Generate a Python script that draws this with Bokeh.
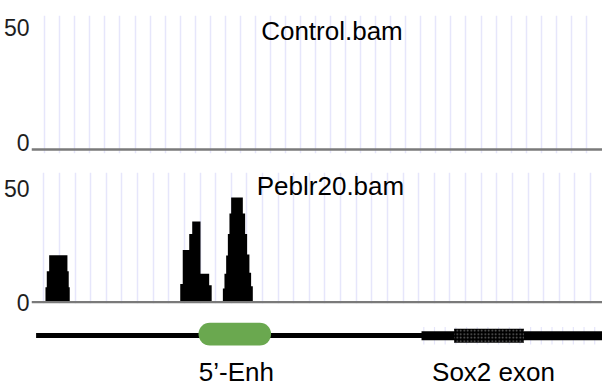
from bokeh.plotting import figure
from bokeh.models import Range1d, FixedTicker, Span
from bokeh.layouts import column
from bokeh.embed import file_html
from bokeh.resources import INLINE
from bokeh.core.properties import value

# ---------------- data ----------------
track_names = ["Control.bam", "Peblr20.bam"]
track_start, track_end = 0, 572

# coverage step profiles (position, read depth held until next position)
control_pos = [0, 572]
control_cov = [0, 0]

peblr_pos = [0, 14, 15.3, 17.7, 36, 37.3, 38.3,
             149, 151.5, 158, 161, 169.3, 178, 180.5,
             191.7, 193.3, 195, 196.7, 198.3, 200, 211.7, 214, 216, 218.3, 220, 221.7,
             572]
peblr_cov = [0, 6.6, 13.6, 20.6, 13.6, 6.6, 0,
             8, 23, 30, 35.5, 12.5, 7.5, 0,
             6, 12.5, 20.5, 30, 39, 46, 39, 30, 21, 13, 7, 0,
             0]

y_ticks = [0, 50]

# annotation features
gene_start = 4.6
utr_start = 390.7
enh_start, enh_end = 167.3, 240.0
exon_start, exon_end = 423.3, 493.3
feature_names = ["5\u2019-Enh", "Sox2 exon"]
feature_label_x = [205.3, 462.8]

# grid positions (regular bins of each track view)
grid_top = [13.3 + 15.07 * k for k in range(37)]
grid_bot = [12.3 + 15.65 * k for k in range(36)]
exon_ticks = [393 + 10.7 * k for k in range(17)]

# ---------------- style ----------------
W = 602
LEFT = 30
GRID_C = "#e6e6fb"
FONT = "Liberation Sans"
TICK_FONT = "Liberation Sans Narrow, Liberation Sans"

x_range = Range1d(track_start, track_end)


def coverage_panel(height, top, bottom, yr, grid, name, name_x, name_y, pos, cov, base):
    p = figure(width=W, height=height, x_range=x_range, y_range=yr,
               output_backend="svg", toolbar_location=None,
               min_border_left=LEFT, min_border_right=0,
               min_border_top=top, min_border_bottom=bottom)
    p.outline_line_color = None
    p.background_fill_color = "white"
    p.border_fill_color = "white"
    p.xaxis.visible = False
    p.ygrid.visible = False
    p.xgrid.ticker = FixedTicker(ticks=grid)
    p.xgrid.grid_line_color = GRID_C
    p.xgrid.grid_line_width = 1.5
    ax = p.yaxis[0]
    ax.ticker = FixedTicker(ticks=y_ticks)
    ax.axis_line_color = None
    ax.major_tick_line_color = None
    ax.minor_tick_line_color = None
    ax.major_tick_out = 0
    ax.major_tick_in = 0
    ax.minor_tick_out = 0
    ax.major_label_standoff = 2
    ax.major_label_text_font = TICK_FONT
    ax.major_label_text_font_size = "23px"
    ax.major_label_text_color = "#1e1e1e"
    p.varea_step(x=pos, y1=[0] * len(cov), y2=cov, step_mode="after",
                 fill_color="black")
    p.add_layout(Span(location=base, dimension="width",
                      line_color="#7a7a7a", line_width=2.5))
    p.text(x=[name_x], y=[name_y], text=[name], text_align="center",
           text_baseline="middle", text_font=value(FONT),
           text_font_size="26px", text_color="black")
    return p


p1 = coverage_panel(160, 15, 7, Range1d(-4.76, 54.98), grid_top,
                    track_names[0], 301, 48.2, control_pos, control_cov, -3.03)
p2 = coverage_panel(158, 12, 15, Range1d(-0.57, 57.04), grid_bot,
                    track_names[1], 299.5, 50.9, peblr_pos, peblr_cov, 0)

# gene annotation track
p3 = figure(width=W, height=69, x_range=x_range, y_range=Range1d(-52, 17),
            output_backend="svg", toolbar_location=None,
            min_border_left=LEFT, min_border_right=0,
            min_border_top=0, min_border_bottom=0)
p3.outline_line_color = None
p3.xaxis.visible = False
p3.yaxis.visible = False
p3.xgrid.visible = False
p3.ygrid.visible = False
p3.segment(x0=exon_ticks, y0=[8.5] * len(exon_ticks), x1=exon_ticks,
           y1=[-9] * len(exon_ticks), line_color=GRID_C, line_width=1.2)
p3.segment(x0=[gene_start], y0=[0], x1=[track_end], y1=[0],
           line_color="black", line_width=5)
p3.segment(x0=[utr_start], y0=[-0.2], x1=[track_end], y1=[-0.2],
           line_color="black", line_width=9)
p3.quad(left=[exon_start], right=[exon_end], bottom=[-7.2], top=[6.8],
        fill_color="black", line_color=None,
        hatch_pattern=".", hatch_color="#6a6a6a", hatch_scale=3.5, hatch_weight=1)
enh_r = 11.35
p3.segment(x0=[enh_start + enh_r], y0=[1.4], x1=[enh_end - enh_r], y1=[1.4],
           line_color="#6aa84f", line_width=22.7, line_cap="round")
p3.text(x=feature_label_x, y=[-36.5, -36.5], text=feature_names,
        text_align="center", text_baseline="middle",
        text_font=value(FONT), text_font_size="26px", text_color="black")

layout = column(p1, p2, p3, spacing=0)
open("out.html", "w").write(file_html(layout, INLINE))
